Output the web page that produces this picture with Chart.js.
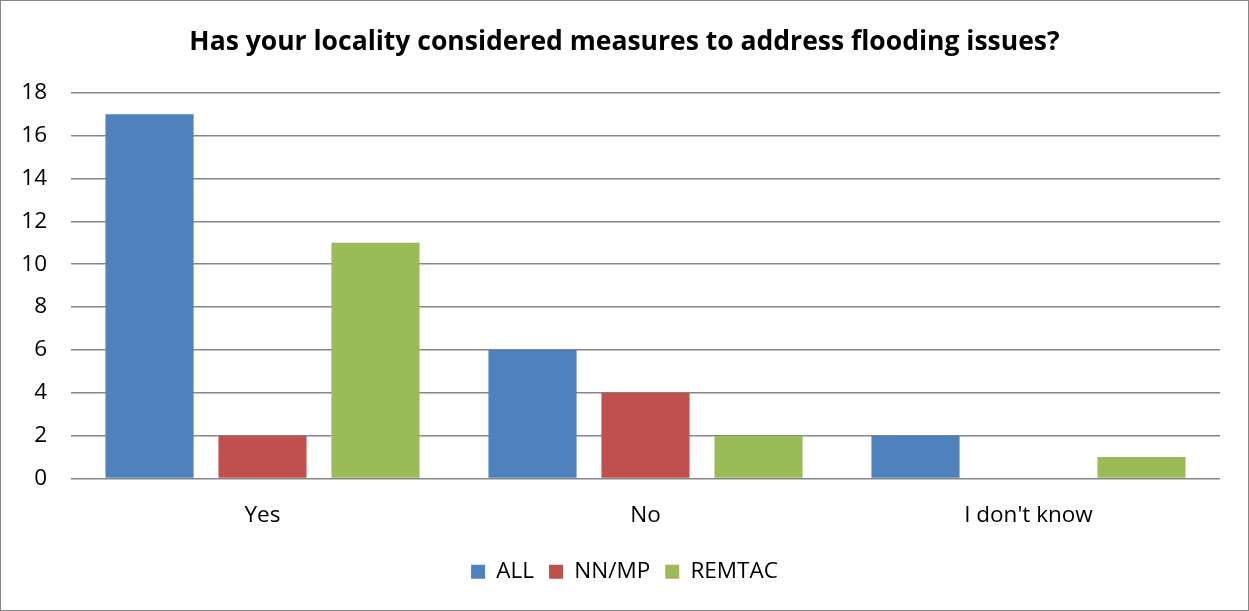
<!DOCTYPE html>
<html><head><meta charset="utf-8">
<script src="https://cdn.jsdelivr.net/npm/chart.js@4"></script>
<style>
html,body{margin:0;padding:0;background:#fff;}
#wrap{width:1249px;height:611px;box-sizing:border-box;border:1px solid #868686;position:relative;}
</style></head><body>
<div id="wrap"><canvas id="c" width="1247" height="609"></canvas></div>
<script>
const categories = ["Yes", "No", "I don't know"];
const seriesNames = ["ALL", "NN/MP", "REMTAC"];
const allValues = [17, 6, 2];
const nnmpValues = [2, 4, 0];
const remtacValues = [11, 2, 1];
const seriesColors = ["#4F81BD", "#C0504D", "#9BBB59"];
const yTicks = [0, 2, 4, 6, 8, 10, 12, 14, 16, 18];
const FONT = "'Open Sans', Lato, sans-serif";

const values = [allValues, nnmpValues, remtacValues];
new Chart(document.getElementById('c'), {
  type: 'bar',
  data: {
    labels: categories,
    datasets: seriesNames.map((n, i) => ({
      label: n, data: values[i], backgroundColor: seriesColors[i],
      categoryPercentage: 0.885, barPercentage: 0.78
    }))
  },
  options: {
    responsive: false, animation: false,
    layout: { padding: { left: 14, right: 14, top: 10, bottom: 17 } },
    plugins: {
      title: { display: true, text: 'Has your locality considered measures to address flooding issues?',
        color: '#000', font: { family: FONT, size: 26.5, weight: 'bold' }, padding: { top: 16, bottom: 34 } },
      legend: { position: 'bottom', labels: { color: '#000', font: { family: FONT, size: 22.5 }, boxWidth: 14, boxHeight: 14, padding: 15 } },
      tooltip: { enabled: false }
    },
    scales: {
      x: { grid: { display: false }, border: { display: false },
        ticks: { color: '#000', font: { family: FONT, size: 22.5 }, padding: 16 } },
      y: { min: 0, max: 18, grid: { color: '#868686', lineWidth: 1.5, drawTicks: false },
        border: { display: false },
        afterBuildTicks: s => { s.ticks = yTicks.map(v => ({ value: v })); },
        afterFit: s => { s.width = 56; },
        ticks: { color: '#000', font: { family: FONT, size: 22.5 }, padding: 24 } },
      yr: { position: 'right', min: 0, max: 18, grid: { display: false }, border: { display: false },
        ticks: { display: false }, afterFit: s => { s.width = 14; } }
    }
  }
});
</script></body></html>
